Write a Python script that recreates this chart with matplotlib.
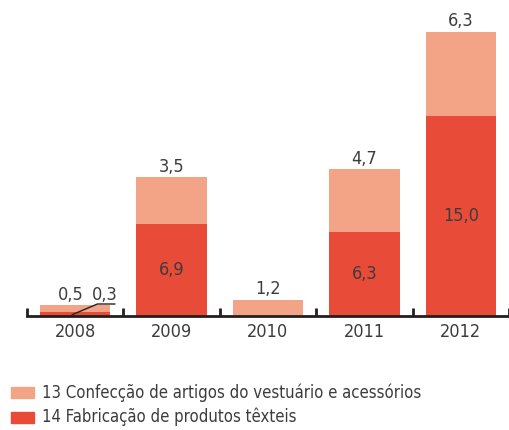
import matplotlib
matplotlib.use('Agg')
import matplotlib.pyplot as plt
from matplotlib.patches import Rectangle

# data
years = ['2008', '2009', '2010', '2011', '2012']
textile = [0.3, 6.9, 0.0, 6.3, 15.0]      # 14 Fabricação de produtos têxteis
clothing = [0.5, 3.5, 1.2, 4.7, 6.3]      # 13 Confecção de artigos do vestuário
labels = ['13 Confecção de artigos do vestuário e acessórios',
          '14 Fabricação de produtos têxteis']

light = '#F3A487'
dark = '#E84B37'
txt = '#3c3c3c'

# condensed face, closest thing to the original narrow font
plt.rcParams['font.family'] = 'DejaVu Sans'
plt.rcParams['font.stretch'] = 'condensed'
fs = 13
lfs = 12

fig = plt.figure(figsize=(5.09, 4.30), dpi=100)
ax = fig.add_axes([27 / 509, 114 / 430, 482 / 509, 316 / 430])

x = list(range(len(years)))
w = 71 / 97
ax.bar(x, textile, width=w, color=dark, zorder=2)
ax.bar(x, clothing, width=w, bottom=textile, color=light, zorder=2)


def fmt(v):
    return f'{v:.1f}'.replace('.', ',')


for i in x:
    if i == 0:
        continue
    tot = textile[i] + clothing[i]
    ax.text(i, tot + 0.8, fmt(clothing[i]), ha='center', va='center',
            fontsize=fs, color=txt)
    if textile[i] > 0:
        ax.text(i, textile[i] / 2, fmt(textile[i]), ha='center', va='center',
                fontsize=fs, color=txt)

# small 2008 bar: labels beside, with a leader line for the dark part
ax.text(-0.05, 1.6, fmt(clothing[0]), ha='center', va='center',
        fontsize=fs, color=txt)
ax.text(0.31, 1.6, fmt(textile[0]), ha='center', va='center',
        fontsize=fs, color=txt)
ax.plot([-0.03, 0.23, 0.41], [0.1, 0.9, 0.9], color='#231f20', lw=1.0,
        zorder=3, clip_on=False)

ax.set_xlim(-0.5, 4.47)
ax.set_ylim(0, 23.7)
for s in ['top', 'right', 'left']:
    ax.spines[s].set_visible(False)
ax.spines['bottom'].set_color('#231f20')
ax.spines['bottom'].set_linewidth(2)
ax.spines['bottom'].set_zorder(4)
ax.set_yticks([])

ax.set_xticks(x)
ax.set_xticklabels(years, fontsize=fs, color=txt)
ax.tick_params(axis='x', length=0, pad=5)
# boundary ticks pointing up
ax.set_xticks([i - 0.5 for i in range(len(years) + 1)], minor=True)
ax.tick_params(axis='x', which='minor', direction='in', length=6, width=2,
               color='#231f20')

# legend drawn by hand at the bottom
for k, (lab, col) in enumerate(zip(labels, [light, dark])):
    yc = 392.5 + k * 24.5
    fig.patches.append(Rectangle((11 / 509, 1 - (yc + 5.5) / 430),
                                 23 / 509, 11 / 430, color=col,
                                 transform=fig.transFigure, figure=fig))
    fig.text(42 / 509, 1 - yc / 430, lab, fontsize=lfs, color=txt,
             ha='left', va='center')

fig.savefig('out.png', dpi=100)
